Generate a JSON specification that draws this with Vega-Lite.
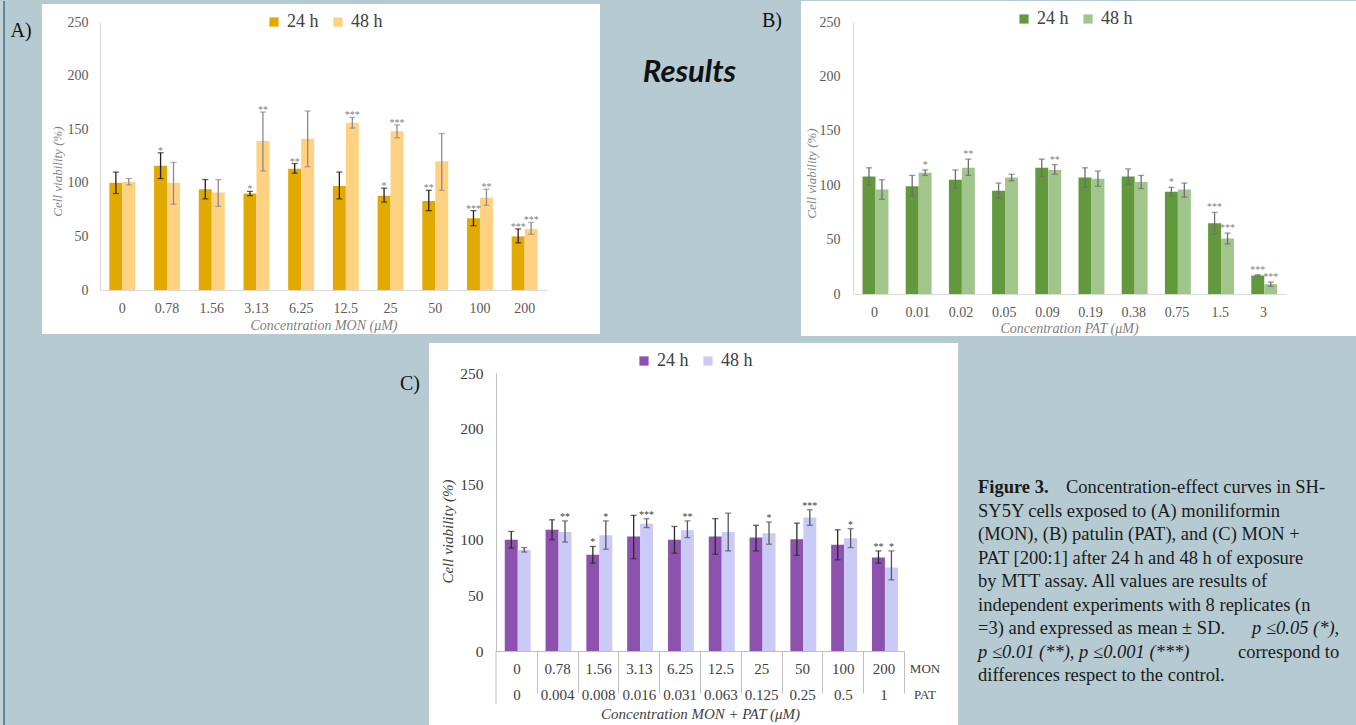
{
  "$schema": "https://vega.github.io/schema/vega-lite/v6.json",
  "background": "#b5cbd1",
  "padding": 0,
  "autosize": {"type": "pad"},
  "columns": 3,
  "align": "each",
  "bounds": "flush",
  "spacing": {"row": 79, "column": 10},
  "resolve": {"scale": {"color": "independent"}, "legend": {"color": "independent"}},
  "config": {"view": {"stroke": null}},
  "datasets": {
    "A": [
      {"c": "0", "t": "24 h", "v": 100, "lo": 90, "hi": 110, "sig": ""},
      {"c": "0.78", "t": "24 h", "v": 116, "lo": 104, "hi": 128, "sig": "*"},
      {"c": "1.56", "t": "24 h", "v": 94, "lo": 85, "hi": 103, "sig": ""},
      {"c": "3.13", "t": "24 h", "v": 90, "lo": 88, "hi": 92, "sig": "*"},
      {"c": "6.25", "t": "24 h", "v": 113, "lo": 109, "hi": 118, "sig": "**"},
      {"c": "12.5", "t": "24 h", "v": 97, "lo": 85, "hi": 110, "sig": ""},
      {"c": "25", "t": "24 h", "v": 88, "lo": 82, "hi": 95, "sig": "*"},
      {"c": "50", "t": "24 h", "v": 83, "lo": 74, "hi": 93, "sig": "**"},
      {"c": "100", "t": "24 h", "v": 67, "lo": 60, "hi": 74, "sig": "***"},
      {"c": "200", "t": "24 h", "v": 50, "lo": 44, "hi": 57, "sig": "***"},
      {"c": "0", "t": "48 h", "v": 101, "lo": 98, "hi": 104, "sig": ""},
      {"c": "0.78", "t": "48 h", "v": 100, "lo": 80, "hi": 119, "sig": ""},
      {"c": "1.56", "t": "48 h", "v": 91, "lo": 78, "hi": 103, "sig": ""},
      {"c": "3.13", "t": "48 h", "v": 139, "lo": 111, "hi": 166, "sig": "**"},
      {"c": "6.25", "t": "48 h", "v": 141, "lo": 115, "hi": 167, "sig": ""},
      {"c": "12.5", "t": "48 h", "v": 156, "lo": 151, "hi": 161, "sig": "***"},
      {"c": "25", "t": "48 h", "v": 148, "lo": 142, "hi": 154, "sig": "***"},
      {"c": "50", "t": "48 h", "v": 120, "lo": 93, "hi": 146, "sig": ""},
      {"c": "100", "t": "48 h", "v": 86, "lo": 79, "hi": 94, "sig": "**"},
      {"c": "200", "t": "48 h", "v": 57, "lo": 52, "hi": 63, "sig": "***"}
    ],
    "B": [
      {"c": "0", "t": "24 h", "v": 108, "lo": 100, "hi": 116, "sig": ""},
      {"c": "0.01", "t": "24 h", "v": 99, "lo": 90, "hi": 109, "sig": ""},
      {"c": "0.02", "t": "24 h", "v": 105, "lo": 97, "hi": 114, "sig": ""},
      {"c": "0.05", "t": "24 h", "v": 95, "lo": 88, "hi": 102, "sig": ""},
      {"c": "0.09", "t": "24 h", "v": 116, "lo": 108, "hi": 124, "sig": ""},
      {"c": "0.19", "t": "24 h", "v": 107, "lo": 98, "hi": 116, "sig": ""},
      {"c": "0.38", "t": "24 h", "v": 108, "lo": 101, "hi": 115, "sig": ""},
      {"c": "0.75", "t": "24 h", "v": 94, "lo": 90, "hi": 98, "sig": "*"},
      {"c": "1.5", "t": "24 h", "v": 65, "lo": 55, "hi": 75, "sig": "***"},
      {"c": "3", "t": "24 h", "v": 17, "lo": 16.5, "hi": 17.7, "sig": "***"},
      {"c": "0", "t": "48 h", "v": 96, "lo": 87, "hi": 105, "sig": ""},
      {"c": "0.01", "t": "48 h", "v": 111.5, "lo": 109, "hi": 114, "sig": "*"},
      {"c": "0.02", "t": "48 h", "v": 116, "lo": 109, "hi": 124, "sig": "**"},
      {"c": "0.05", "t": "48 h", "v": 107, "lo": 104, "hi": 110, "sig": ""},
      {"c": "0.09", "t": "48 h", "v": 114, "lo": 110, "hi": 119, "sig": "**"},
      {"c": "0.19", "t": "48 h", "v": 106, "lo": 99, "hi": 113, "sig": ""},
      {"c": "0.38", "t": "48 h", "v": 103, "lo": 97, "hi": 109, "sig": ""},
      {"c": "0.75", "t": "48 h", "v": 96, "lo": 89, "hi": 102, "sig": ""},
      {"c": "1.5", "t": "48 h", "v": 51, "lo": 46, "hi": 56, "sig": "***"},
      {"c": "3", "t": "48 h", "v": 9, "lo": 7, "hi": 11, "sig": "***"}
    ],
    "C": [
      {"c": "0|0", "t": "24 h", "v": 100, "lo": 92.5, "hi": 107.5, "sig": ""},
      {"c": "0.78|0.004", "t": "24 h", "v": 109, "lo": 100, "hi": 118, "sig": ""},
      {"c": "1.56|0.008", "t": "24 h", "v": 86.5, "lo": 79, "hi": 94, "sig": "*"},
      {"c": "3.13|0.016", "t": "24 h", "v": 103, "lo": 83, "hi": 122, "sig": ""},
      {"c": "6.25|0.031", "t": "24 h", "v": 100, "lo": 88, "hi": 112, "sig": ""},
      {"c": "12.5|0.063", "t": "24 h", "v": 103, "lo": 87, "hi": 119, "sig": ""},
      {"c": "25|0.125", "t": "24 h", "v": 102, "lo": 90, "hi": 113, "sig": ""},
      {"c": "50|0.25", "t": "24 h", "v": 100.5, "lo": 86, "hi": 115, "sig": ""},
      {"c": "100|0.5", "t": "24 h", "v": 95.5, "lo": 82, "hi": 109, "sig": ""},
      {"c": "200|1", "t": "24 h", "v": 84, "lo": 79, "hi": 90, "sig": "**"},
      {"c": "0|0", "t": "48 h", "v": 91, "lo": 89, "hi": 93, "sig": ""},
      {"c": "0.78|0.004", "t": "48 h", "v": 107, "lo": 98, "hi": 117, "sig": "**"},
      {"c": "1.56|0.008", "t": "48 h", "v": 104, "lo": 91.5, "hi": 117, "sig": "*"},
      {"c": "3.13|0.016", "t": "48 h", "v": 114.5, "lo": 111, "hi": 119, "sig": "***"},
      {"c": "6.25|0.031", "t": "48 h", "v": 108.5, "lo": 102, "hi": 117, "sig": "**"},
      {"c": "12.5|0.063", "t": "48 h", "v": 107, "lo": 90, "hi": 124, "sig": ""},
      {"c": "25|0.125", "t": "48 h", "v": 106, "lo": 96, "hi": 116, "sig": "*"},
      {"c": "50|0.25", "t": "48 h", "v": 120, "lo": 113, "hi": 127, "sig": "***"},
      {"c": "100|0.5", "t": "48 h", "v": 101.5, "lo": 93, "hi": 110, "sig": "*"},
      {"c": "200|1", "t": "48 h", "v": 75, "lo": 64, "hi": 90, "sig": "*"}
    ],
    "cap": [
      {"line": 1, "seg": "b", "text": "Figure 3."},
      {"line": 1, "seg": "n1", "text": "Concentration-effect curves in SH-"},
      {"line": 2, "seg": "n0", "text": "SY5Y cells exposed to (A) moniliformin"},
      {"line": 3, "seg": "n0", "text": "(MON), (B) patulin (PAT), and (C) MON +"},
      {"line": 4, "seg": "n0", "text": "PAT [200:1] after 24 h and 48 h of exposure"},
      {"line": 5, "seg": "n0", "text": "by MTT assay. All values are results of"},
      {"line": 6, "seg": "n0", "text": "independent experiments with 8 replicates (n"},
      {"line": 7, "seg": "n0", "text": "=3) and expressed as mean ± SD."},
      {"line": 7, "seg": "i1", "text": "p ≤0.05 (*),"},
      {"line": 8, "seg": "i0", "text": "p ≤0.01 (**), p ≤0.001 (***)"},
      {"line": 8, "seg": "n2", "text": "correspond to"},
      {"line": 9, "seg": "n0", "text": "differences respect to the control."}
    ]
  },
  "concat": [
    {
      "width": 386, "height": 268,
      "resolve": {"scale": {"x": "independent", "y": "independent"}},
      "layer": [
        {
          "data": {"values": [{}]},
          "layer": [
            {"mark": {"type": "rect", "color": "#ffffff"},
             "encoding": {
               "x": {"datum": -0.1298, "type": "quantitative", "scale": {"domain": [0, 1], "range": [0, 447], "nice": false, "zero": false}, "axis": null},
               "x2": {"datum": 1.1186},
               "y": {"datum": 1.0672, "type": "quantitative", "scale": {"domain": [0, 1], "nice": false, "zero": false}, "axis": null},
               "y2": {"datum": -0.1642}}},
            {"mark": {"type": "rect", "color": "#c0d3d8"},
             "encoding": {
               "x": {"datum": -0.2237, "type": "quantitative", "scale": {"domain": [0, 1], "range": [0, 447], "nice": false, "zero": false}, "axis": null},
               "x2": {"datum": -0.2170},
               "y": {"datum": 1.0784, "type": "quantitative", "scale": {"domain": [0, 1], "nice": false, "zero": false}, "axis": null},
               "y2": {"datum": -1.6269}}},
            {"mark": {"type": "rect", "color": "#5d8b9a"},
             "encoding": {
               "x": {"datum": -0.2170, "type": "quantitative", "scale": {"domain": [0, 1], "range": [0, 447], "nice": false, "zero": false}, "axis": null},
               "x2": {"datum": -0.2125},
               "y": {"datum": 1.0784, "type": "quantitative", "scale": {"domain": [0, 1], "nice": false, "zero": false}, "axis": null},
               "y2": {"datum": -1.6269}}},
            {"mark": {"type": "text", "font": "Liberation Serif", "fontSize": 20, "color": "#111111", "baseline": "middle"},
             "encoding": {
               "x": {"datum": -0.1767, "type": "quantitative", "scale": {"domain": [0, 1], "range": [0, 447], "nice": false, "zero": false}, "axis": null},
               "y": {"datum": 0.9664, "type": "quantitative", "scale": {"domain": [0, 1], "nice": false, "zero": false}, "axis": null},
               "text": {"value": "A)"}}}
          ]
        },
        {
          "data": {"name": "A"},
          "encoding": {
            "x": {"field": "c", "type": "nominal", "sort": null,
                  "scale": {"paddingInner": 0.42, "paddingOuter": 0.21, "range": [0, 447]},
                  "axis": {"title": "Concentration MON (μM)", "labelAngle": 0, "ticks": false, "domainColor": "#d9d9d9",
                           "labelFont": "Liberation Serif", "labelFontSize": 14, "labelColor": "#595959", "labelPadding": 11,
                           "titleFont": "Liberation Serif", "titleFontStyle": "italic", "titleFontWeight": "normal", "titleFontSize": 14,
                           "titleColor": "#7f7f7f", "titlePadding": 3, "zindex": 1}},
            "xOffset": {"field": "t", "type": "nominal"}
          },
          "layer": [
            {"mark": {"type": "bar"},
             "encoding": {
               "y": {"field": "v", "type": "quantitative", "scale": {"domain": [0, 250], "nice": false},
                     "axis": {"title": "Cell viability (%)", "values": [0, 50, 100, 150, 200, 250], "ticks": false, "grid": false,
                              "domainColor": "#d9d9d9", "labelFont": "Liberation Serif", "labelFontSize": 14, "labelColor": "#595959",
                              "labelPadding": 12, "titleFont": "Liberation Serif", "titleFontStyle": "italic", "titleFontWeight": "normal",
                              "titleFontSize": 13, "titleColor": "#7f7f7f", "titlePadding": 3, "titleY": 149, "zindex": 1}},
               "color": {"field": "t", "type": "nominal", "scale": {"domain": ["24 h", "48 h"], "range": ["#e2a900", "#ffd282"]},
                         "legend": {"orient": "none", "legendX": 165, "legendY": -9, "direction": "horizontal", "title": null,
                                    "symbolType": "square", "symbolSize": 85, "symbolStrokeWidth": 0, "labelFont": "Liberation Serif",
                                    "labelFontSize": 18, "labelColor": "#404040", "columnPadding": 10, "labelOffset": 4}}}},
            {"mark": {"type": "rule", "strokeWidth": 1.3},
             "encoding": {
               "y": {"field": "lo", "type": "quantitative", "title": "Cell viability (%)"},
               "y2": {"field": "hi"},
               "color": {"condition": {"test": "datum.t == '24 h'", "value": "#1f1f1f"}, "value": "#8a8a8a"}}},
            {"mark": {"type": "tick", "orient": "horizontal", "size": 6, "thickness": 1.3},
             "encoding": {
               "y": {"field": "hi", "type": "quantitative", "title": "Cell viability (%)"},
               "color": {"condition": {"test": "datum.t == '24 h'", "value": "#1f1f1f"}, "value": "#8a8a8a"}}},
            {"mark": {"type": "tick", "orient": "horizontal", "size": 6, "thickness": 1.3},
             "encoding": {
               "y": {"field": "lo", "type": "quantitative", "title": "Cell viability (%)"},
               "color": {"condition": {"test": "datum.t == '24 h'", "value": "#1f1f1f"}, "value": "#8a8a8a"}}},
            {"mark": {"type": "text", "font": "Liberation Serif", "fontSize": 10, "color": "#7f7f7f", "baseline": "alphabetic", "dy": 1},
             "encoding": {
               "y": {"field": "hi", "type": "quantitative", "title": "Cell viability (%)"},
               "text": {"field": "sig"}}}
          ]
        }
      ]
    },
    {
      "width": 347, "height": 102,
      "data": {"values": [{}]},
      "mark": {"type": "text", "text": "Results", "font": "Lato", "fontSize": 31, "fontWeight": "bold", "fontStyle": "italic",
               "color": "#111111", "dx": 20, "align": "center", "baseline": "middle"},
      "encoding": {}
    },
    {
      "width": 432, "height": 272,
      "resolve": {"scale": {"x": "independent", "y": "independent"}},
      "layer": [
        {
          "data": {"values": [{}]},
          "layer": [
            {"mark": {"type": "rect", "color": "#ffffff"},
             "encoding": {
               "x": {"datum": -0.1204, "type": "quantitative", "scale": {"domain": [0, 1], "nice": false, "zero": false}, "axis": null},
               "x2": {"datum": 1.1644},
               "y": {"datum": 1.0772, "type": "quantitative", "scale": {"domain": [0, 1], "nice": false, "zero": false}, "axis": null},
               "y2": {"datum": -0.1544}}},
            {"mark": {"type": "text", "font": "Liberation Serif", "fontSize": 20, "color": "#111111", "baseline": "middle"},
             "encoding": {
               "x": {"datum": -0.1875, "type": "quantitative", "scale": {"domain": [0, 1], "nice": false, "zero": false}, "axis": null},
               "y": {"datum": 1.0037, "type": "quantitative", "scale": {"domain": [0, 1], "nice": false, "zero": false}, "axis": null},
               "text": {"value": "B)"}}}
          ]
        },
        {
          "data": {"name": "B"},
          "encoding": {
            "x": {"field": "c", "type": "nominal", "sort": null,
                  "scale": {"paddingInner": 0.44, "paddingOuter": 0.22},
                  "axis": {"title": "Concentration PAT (μM)", "labelAngle": 0, "ticks": false, "domainColor": "#d9d9d9",
                           "labelFont": "Liberation Serif", "labelFontSize": 14, "labelColor": "#595959", "labelPadding": 11,
                           "titleFont": "Liberation Serif", "titleFontStyle": "italic", "titleFontWeight": "normal", "titleFontSize": 14,
                           "titleColor": "#7f7f7f", "titlePadding": 2, "zindex": 1}},
            "xOffset": {"field": "t", "type": "nominal"}
          },
          "layer": [
            {"mark": {"type": "bar"},
             "encoding": {
               "y": {"field": "v", "type": "quantitative", "scale": {"domain": [0, 250], "nice": false},
                     "axis": {"title": "Cell viability (%)", "values": [0, 50, 100, 150, 200, 250], "ticks": false, "grid": false,
                              "domainColor": "#d9d9d9", "labelFont": "Liberation Serif", "labelFontSize": 14, "labelColor": "#595959",
                              "labelPadding": 13, "titleFont": "Liberation Serif", "titleFontStyle": "italic", "titleFontWeight": "normal",
                              "titleFontSize": 13, "titleColor": "#7f7f7f", "titlePadding": 1, "titleY": 151, "zindex": 1}},
               "color": {"field": "t", "type": "nominal", "scale": {"domain": ["24 h", "48 h"], "range": ["#62993c", "#a0c68c"]},
                         "legend": {"orient": "none", "legendX": 162, "legendY": -12, "direction": "horizontal", "title": null,
                                    "symbolType": "square", "symbolSize": 85, "symbolStrokeWidth": 0, "labelFont": "Liberation Serif",
                                    "labelFontSize": 18, "labelColor": "#404040", "columnPadding": 10, "labelOffset": 4}}}},
            {"mark": {"type": "rule", "strokeWidth": 1.3, "color": "#6e6e6e"},
             "encoding": {
               "y": {"field": "lo", "type": "quantitative", "title": "Cell viability (%)"},
               "y2": {"field": "hi"}}},
            {"mark": {"type": "tick", "orient": "horizontal", "size": 6, "thickness": 1.3, "color": "#6e6e6e"},
             "encoding": {"y": {"field": "hi", "type": "quantitative", "title": "Cell viability (%)"}}},
            {"mark": {"type": "tick", "orient": "horizontal", "size": 6, "thickness": 1.3, "color": "#6e6e6e"},
             "encoding": {"y": {"field": "lo", "type": "quantitative", "title": "Cell viability (%)"}}},
            {"mark": {"type": "text", "font": "Liberation Serif", "fontSize": 10, "color": "#7f7f7f", "baseline": "alphabetic", "dy": -2},
             "encoding": {
               "y": {"field": "hi", "type": "quantitative", "title": "Cell viability (%)"},
               "text": {"field": "sig"}}}
          ]
        }
      ]
    },
    {
      "width": 386, "height": 20,
      "data": {"values": [{}]},
      "mark": {"type": "text", "text": ""},
      "encoding": {}
    },
    {
      "width": 347, "height": 278,
      "resolve": {"scale": {"x": "independent", "y": "independent"}},
      "layer": [
        {
          "data": {"values": [{}]},
          "layer": [
            {"mark": {"type": "rect", "color": "#ffffff"},
             "encoding": {
               "x": {"datum": -0.1642, "type": "quantitative", "scale": {"domain": [0, 1], "range": [0, 408], "nice": false, "zero": false}, "axis": null},
               "x2": {"datum": 1.1324},
               "y": {"datum": 1.1079, "type": "quantitative", "scale": {"domain": [0, 1], "nice": false, "zero": false}, "axis": null},
               "y2": {"datum": -0.2698}}},
            {"mark": {"type": "rule", "color": "#bfbfbf", "strokeWidth": 1},
             "encoding": {
               "x": {"datum": 0, "type": "quantitative", "scale": {"domain": [0, 1], "range": [0, 408], "nice": false, "zero": false}, "axis": null},
               "y": {"datum": 0, "type": "quantitative", "scale": {"domain": [0, 1], "nice": false, "zero": false}, "axis": null},
               "y2": {"datum": -0.1906}}},
            {"mark": {"type": "text", "font": "Liberation Serif", "fontSize": 20, "color": "#111111", "baseline": "middle"},
             "encoding": {
               "x": {"datum": -0.2108, "type": "quantitative", "scale": {"domain": [0, 1], "range": [0, 408], "nice": false, "zero": false}, "axis": null},
               "y": {"datum": 0.9604, "type": "quantitative", "scale": {"domain": [0, 1], "nice": false, "zero": false}, "axis": null},
               "text": {"value": "C)"}}},
            {"mark": {"type": "text", "font": "Liberation Serif", "fontSize": 13, "color": "#404040", "baseline": "middle"},
             "encoding": {
               "x": {"datum": 1.0515, "type": "quantitative", "scale": {"domain": [0, 1], "range": [0, 408], "nice": false, "zero": false}, "axis": null},
               "y": {"datum": -0.0647, "type": "quantitative", "scale": {"domain": [0, 1], "nice": false, "zero": false}, "axis": null},
               "text": {"value": "MON"}}},
            {"mark": {"type": "text", "font": "Liberation Serif", "fontSize": 13, "color": "#404040", "baseline": "middle"},
             "encoding": {
               "x": {"datum": 1.0515, "type": "quantitative", "scale": {"domain": [0, 1], "range": [0, 408], "nice": false, "zero": false}, "axis": null},
               "y": {"datum": -0.1583, "type": "quantitative", "scale": {"domain": [0, 1], "nice": false, "zero": false}, "axis": null},
               "text": {"value": "PAT"}}}
          ]
        },
        {
          "data": {"name": "C"},
          "encoding": {
            "x": {"field": "c", "type": "nominal", "sort": null,
                  "scale": {"paddingInner": 0.43, "paddingOuter": 0.215, "range": [0, 408]},
                  "axis": {"title": "Concentration MON + PAT (μM)", "labelAngle": 0, "labelExpr": "split(datum.label, '|')",
                           "labelLineHeight": 26, "ticks": true, "tickSize": 42, "tickColor": "#bfbfbf", "bandPosition": 1,
                           "tickOffset": 8.8, "labelOffset": -8.8, "domainColor": "#bfbfbf",
                           "labelFont": "Liberation Serif", "labelFontSize": 15, "labelColor": "#404040", "labelPadding": -32,
                           "titleFont": "Liberation Serif", "titleFontStyle": "italic", "titleFontWeight": "normal", "titleFontSize": 15,
                           "titleColor": "#404040", "titlePadding": 4, "zindex": 1}},
            "xOffset": {"field": "t", "type": "nominal"}
          },
          "layer": [
            {"mark": {"type": "bar"},
             "encoding": {
               "y": {"field": "v", "type": "quantitative", "scale": {"domain": [0, 250], "nice": false},
                     "axis": {"title": "Cell viability (%)", "values": [0, 50, 100, 150, 200, 250], "ticks": false, "grid": false,
                              "domainColor": "#bfbfbf", "labelFont": "Liberation Serif", "labelFontSize": 15.5, "labelColor": "#404040",
                              "labelPadding": 13, "titleFont": "Liberation Serif", "titleFontStyle": "italic", "titleFontWeight": "normal",
                              "titleFontSize": 15, "titleColor": "#404040", "titlePadding": 4, "titleY": 158, "zindex": 1}},
               "color": {"field": "t", "type": "nominal", "scale": {"domain": ["24 h", "48 h"], "range": ["#8c52ae", "#c9cbf6"]},
                         "legend": {"orient": "none", "legendX": 139, "legendY": -21, "direction": "horizontal", "title": null,
                                    "symbolType": "square", "symbolSize": 85, "symbolStrokeWidth": 0, "labelFont": "Liberation Serif",
                                    "labelFontSize": 18, "labelColor": "#404040", "columnPadding": 10, "labelOffset": 4}}}},
            {"mark": {"type": "rule", "strokeWidth": 1.3},
             "encoding": {
               "y": {"field": "lo", "type": "quantitative", "title": "Cell viability (%)"},
               "y2": {"field": "hi"},
               "color": {"condition": {"test": "datum.t == '24 h'", "value": "#2a2a2a"}, "value": "#555555"}}},
            {"mark": {"type": "tick", "orient": "horizontal", "size": 6, "thickness": 1.3},
             "encoding": {
               "y": {"field": "hi", "type": "quantitative", "title": "Cell viability (%)"},
               "color": {"condition": {"test": "datum.t == '24 h'", "value": "#2a2a2a"}, "value": "#555555"}}},
            {"mark": {"type": "tick", "orient": "horizontal", "size": 6, "thickness": 1.3},
             "encoding": {
               "y": {"field": "lo", "type": "quantitative", "title": "Cell viability (%)"},
               "color": {"condition": {"test": "datum.t == '24 h'", "value": "#2a2a2a"}, "value": "#555555"}}},
            {"mark": {"type": "text", "font": "Liberation Serif", "fontSize": 10, "color": "#404040", "baseline": "alphabetic", "dy": -1},
             "encoding": {
               "y": {"field": "hi", "type": "quantitative", "title": "Cell viability (%)"},
               "text": {"field": "sig"}}}
          ]
        }
      ]
    },
    {
      "width": 250, "height": 188,
      "data": {"name": "cap"},
      "encoding": {
        "y": {"field": "line", "type": "ordinal", "scale": {"type": "point", "padding": 0, "domain": [1, 2, 3, 4, 5, 6, 7, 8, 9]}, "axis": null},
        "text": {"field": "text"}
      },
      "layer": [
        {"transform": [{"filter": "datum.seg == 'n0'"}],
         "mark": {"type": "text", "font": "Liberation Serif", "fontSize": 18.5, "color": "#1a1a1a", "align": "left", "baseline": "middle", "dy": 114}},
        {"transform": [{"filter": "datum.seg == 'b'"}],
         "mark": {"type": "text", "font": "Liberation Serif", "fontSize": 18.5, "fontWeight": "bold", "color": "#1a1a1a", "align": "left", "baseline": "middle", "dy": 114}},
        {"transform": [{"filter": "datum.seg == 'n1'"}],
         "mark": {"type": "text", "font": "Liberation Serif", "fontSize": 18.5, "color": "#1a1a1a", "align": "left", "baseline": "middle", "dy": 114, "dx": 88}},
        {"transform": [{"filter": "datum.seg == 'i0'"}],
         "mark": {"type": "text", "font": "Liberation Serif", "fontSize": 18.5, "fontStyle": "italic", "color": "#1a1a1a", "align": "left", "baseline": "middle", "dy": 114}},
        {"transform": [{"filter": "datum.seg == 'i1'"}],
         "mark": {"type": "text", "font": "Liberation Serif", "fontSize": 18.5, "fontStyle": "italic", "color": "#1a1a1a", "align": "left", "baseline": "middle", "dy": 114, "dx": 274}},
        {"transform": [{"filter": "datum.seg == 'n2'"}],
         "mark": {"type": "text", "font": "Liberation Serif", "fontSize": 18.5, "color": "#1a1a1a", "align": "left", "baseline": "middle", "dy": 114, "dx": 260}}
      ]
    }
  ]
}
